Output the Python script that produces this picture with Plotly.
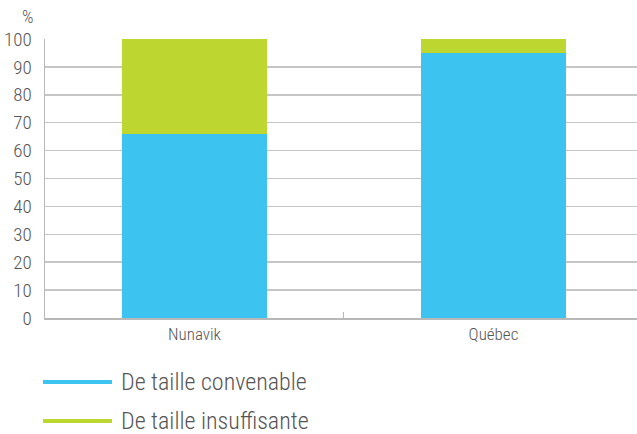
import plotly.graph_objects as go

categories = ["Nunavik", "Québec"]
convenable = [66, 95]
insuffisante = [34, 5]
series_names = ["De taille convenable", "De taille insuffisante"]
colors = ["#3cc3ef", "#bed630"]
y_ticks = list(range(0, 101, 10))

FONT = "Roboto Condensed, DejaVu Sans Condensed, sans-serif"
TXT = "#555555"
WEIGHT = 300

W, H = 637, 434
L, R, T, B = 45, 0, 39, 116
PW, PH = W - L - R, H - T - B


def px_x(x):
    return (x - L) / PW


def px_y(y):
    return (H - B - y) / PH


fig = go.Figure()
for name, vals, col in [(series_names[0], convenable, colors[0]), (series_names[1], insuffisante, colors[1])]:
    fig.add_trace(go.Bar(x=categories, y=vals, name=name, marker=dict(color=col, line=dict(width=0)),
                         width=0.488, showlegend=False, hoverinfo="skip"))

shapes = []
annotations = []
for i, (name, col) in enumerate(zip(series_names, colors)):
    yy = 382 + i * 39
    shapes.append(dict(type="line", xref="paper", yref="paper", x0=px_x(43), x1=px_x(112),
                       y0=px_y(yy), y1=px_y(yy), line=dict(color=col, width=4)))
    annotations.append(dict(text=name, xref="paper", yref="paper", x=px_x(119), y=px_y(yy),
                            xanchor="left", yanchor="middle", showarrow=False,
                            font=dict(size=24, color=TXT, family=FONT, weight=WEIGHT)))
annotations.append(dict(text="%", xref="paper", yref="paper", x=px_x(28), y=px_y(16),
                        xanchor="center", yanchor="middle", showarrow=False,
                        font=dict(size=18, color=TXT, family=FONT, weight=WEIGHT)))

fig.update_layout(
    barmode="stack",
    width=W, height=H,
    margin=dict(l=L, r=R, t=T, b=B, autoexpand=False),
    plot_bgcolor="white", paper_bgcolor="white",
    font=dict(family=FONT, color=TXT, weight=WEIGHT),
    showlegend=False,
    xaxis=dict(range=[-0.5, 1.48], showline=True, linecolor="#b8b8b8", linewidth=1.5,
               ticks="inside", tickson="boundaries", ticklen=6, tickcolor="#b8b8b8", tickwidth=1,
               tickfont=dict(size=17, color=TXT, family=FONT, weight=WEIGHT), showgrid=False, fixedrange=True),
    yaxis=dict(range=[0, 100], tickvals=y_ticks, showline=True, linecolor="#b8b8b8", linewidth=1.5,
               showgrid=True, gridcolor="#c6c6c6", gridwidth=1.5, ticks="outside", ticklen=8,
               tickcolor="rgba(0,0,0,0)", tickfont=dict(size=19, color=TXT, family=FONT, weight=WEIGHT),
               zeroline=False, fixedrange=True),
    shapes=shapes,
    annotations=annotations,
)

fig.write_html("out.html", config={"displayModeBar": False, "staticPlot": True},
               post_script="document.body.style.margin='0';")
